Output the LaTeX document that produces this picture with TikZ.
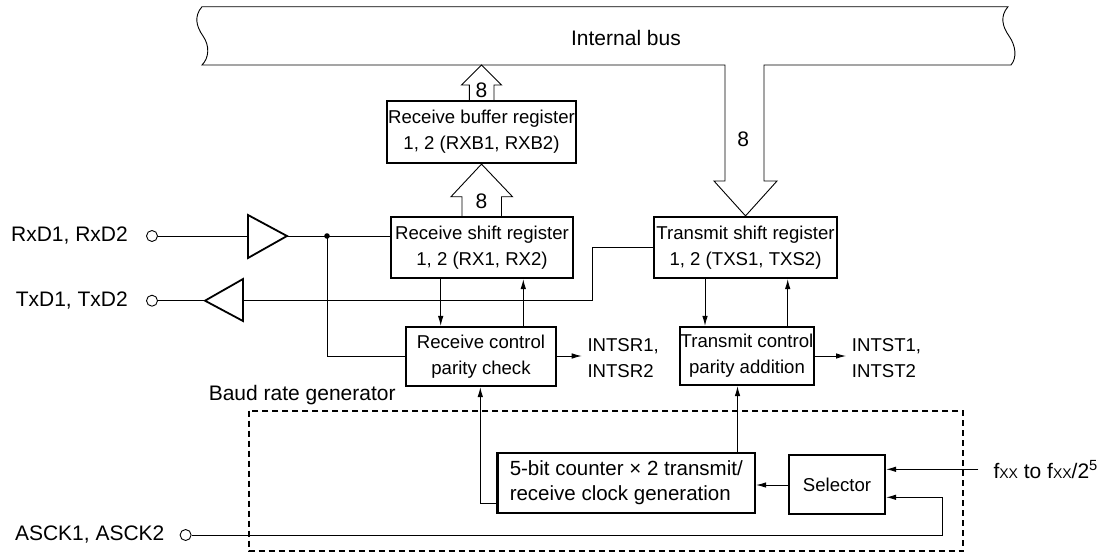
\documentclass[tikz,border=0pt]{standalone}
\usepackage{fontspec}
\setmainfont{Liberation Sans}
\usetikzlibrary{arrows.meta,calc}
\newcommand{\bfs}{\fontsize{18.6}{26}\selectfont}
\newcommand{\lfs}{\fontsize{21}{26}\selectfont}
\newcommand{\cfs}{\fontsize{20.5}{25}\selectfont}
\begin{document}
\begin{tikzpicture}[x=1pt,y=-1pt,
  box/.style={draw, line width=2.2pt, inner sep=1pt, align=center, font=\bfs},
  wire/.style={line width=0.9pt},
  arr/.style={wire, -{Latex[length=10pt,width=5.5pt]}},
  fat/.style={line width=0.9pt, line join=miter},
  pin/.style={circle, draw, line width=0.9pt, minimum size=11pt, inner sep=0pt},
  lbl/.style={inner sep=0pt, font=\lfs},
  side/.style={inner sep=0pt, font=\bfs, align=left, anchor=west},
  buf/.style={line width=1.8pt, line join=miter}
]
\useasboundingbox (0,0) rectangle (1102,554);

% boxes
\node[box, minimum width=176pt, minimum height=62pt] (rxb) at (481.5,132) {Receive buffer register\\1, 2 (RXB1, RXB2)};
\node[box, minimum width=182pt, minimum height=61pt] (rxs) at (482,247.5) {Receive shift register\\1, 2 (RX1, RX2)};
\node[box, minimum width=183pt, minimum height=61pt] (txs) at (745.5,247.5) {Transmit shift register\\1, 2 (TXS1, TXS2)};
\node[box, minimum width=150pt, minimum height=59pt] (rxc) at (481,356.5) {Receive control\\parity check};
\node[box, minimum width=132pt, minimum height=58pt] (txc) at (747,356) {Transmit control\\parity addition};
\node[box, font=\cfs, minimum width=257.5pt, minimum height=60pt, align=left] (cnt) at (626.25,483) {5-bit counter × 2 transmit/\\receive clock generation};
\node[box, minimum width=96pt, minimum height=59pt] (sel) at (837,484.5) {Selector};

% internal bus with transmit bus arrow
\draw[fat] (725,65) -- (202,65)
  .. controls (209,58) and (210,46) .. (203,36)
  .. controls (196,26) and (194,16) .. (202,6.7)
  -- (1008,6.7)
  .. controls (1000,16) and (1002,26) .. (1009,36)
  .. controls (1016,46) and (1017,58) .. (1011,65)
  -- (764,65) -- (764,181) -- (777,181) -- (txs.north) -- (714,181) -- (725,181) -- cycle;
\node[lbl] (busl) at (626,37.5) {Internal bus};
\node[lbl] (t8) at (743.3,139.3) {8};

% receive buffer -> bus
\coordinate (rbtip) at (481.5,65);
\draw[fat] (469.3,0 |- rxb.north) -- (469.3,85) -- (461.5,85) -- (rbtip) -- (501.5,85) -- (494,85) -- (494,0 |- rxb.north);
\node[lbl] (r8a) at (481.5,90) {8};
% receive shift -> receive buffer
\draw[fat] (462,0 |- rxs.north) -- (462,196.7) -- (451,196.7) -- (481.5,0 |- rxb.south) -- (512.5,196.7) -- (501.5,196.7) -- (501.5,0 |- rxs.north);
\node[lbl] (r8b) at (481.5,201.5) {8};

% RxD input
\node[lbl, anchor=east] (rxdl) at (128,236) {RxD1, RxD2};
\node[pin] (rxdp) at (152,236) {};
\coordinate (rxbL) at (248,236);
\coordinate (rxbR) at (287,236);
\draw[buf] (248,215) -- (rxbR) -- (248,258) -- cycle;
\draw[wire] (rxdp) -- (rxbL);
\draw[wire] (rxbR) -- (rxbR -| rxs.west);
\coordinate (rxdot) at (327,236);
\fill (rxdot) circle (2.8pt);
\draw[wire] (rxdot) |- (rxc.west);

% TxD output
\node[lbl, anchor=east] (txdl) at (128,300.7) {TxD1, TxD2};
\node[pin] (txdp) at (152,300.7) {};
\coordinate (txbL) at (205,300.7);
\coordinate (txbR) at (243,300.7);
\draw[buf] (243,279) -- (txbL) -- (243,321) -- cycle;
\draw[wire] (txdp) -- (txbL);
\coordinate (txbend) at (592,300.7);
\draw[wire] (txbR) -- (txbend) |- (txs.west);

% shift <-> control
\draw[arr] (440.7,0 |- rxs.south) -- (440.7,0 |- rxc.north);
\draw[arr] (523.3,0 |- rxc.north) -- (523.3,0 |- rxs.south);
\draw[arr] (705,0 |- txs.south) -- (705,0 |- txc.north);
\draw[arr] (787.7,0 |- txc.north) -- (787.7,0 |- txs.south);

% interrupt outputs
\coordinate (isr) at (581.7,356);
\draw[arr] (rxc.east |- isr) -- (isr);
\node[side] (isrl) at (587.3,358) {INTSR1,\\INTSR2};
\coordinate (ist) at (846,356);
\draw[arr] (txc.east |- ist) -- (ist);
\node[side] (istl) at (851.7,358.5) {INTST1,\\INTST2};

% baud rate generator
\node[lbl, anchor=west] (brg) at (208.6,395) {Baud rate generator};
\draw[line width=2pt, dash pattern=on 6pt off 4pt] (248.8,410.7) rectangle (963.3,551);

\coordinate (cntL) at (480.3,503.3);
\draw[arr] (cnt.west |- cntL) -- (cntL) -- (cntL |- rxc.south);
\draw[arr] (737.5,0 |- cnt.north) -- (737.5,0 |- txc.south);
\draw[arr] (sel.west |- 0,485) -- (cnt.east |- 0,485);

\coordinate (fin) at (978.3,469.3);
\draw[arr] (fin) -- (sel.east |- fin);
\node[lbl, anchor=west] (fxx) at (993.3,469.3) {f{\fontsize{14}{14}\selectfont XX} to f{\fontsize{14}{14}\selectfont XX}/2\textsuperscript{5}};

% ASCK
\node[lbl, anchor=east] (asckl) at (164.6,535) {ASCK1, ASCK2};
\node[pin] (asckp) at (185.6,535) {};
\coordinate (asckc) at (942.7,535);
\draw[arr] (asckp) -- (asckc) |- (sel.east |- 0,497.3);
\end{tikzpicture}
\end{document}
